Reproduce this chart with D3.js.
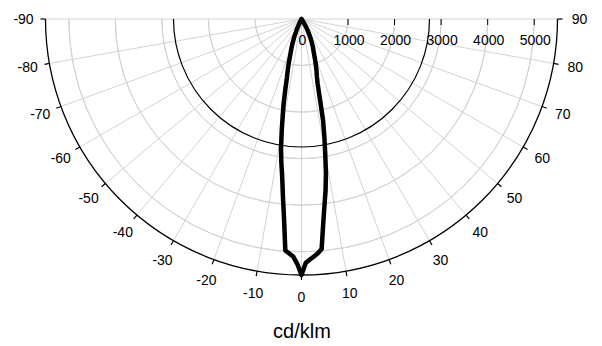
<!doctype html>
<html>
  <head>
    <meta charset="utf-8"/>
    <title>cd/klm</title>
    <style>
      body, html {
        margin: 0;
        padding: 0;
        background: #fff;
      }
      svg text {
        font-family: "Liberation Sans", Arial, sans-serif;
        fill: #000;
      }
    </style>
    <script src="https://d3js.org/d3.v7.min.js"></script>
  </head>
  <body>
    <svg id="chart" width="602" height="346"></svg>
    <script>
      // polar angles (deg, 0 = straight down) and intensities (cd/klm)
      var angles = [-90, -40, -30, -28, -26, -24, -22, -20, -19, -18, -17, -16, -15, -14, -13, -12, -11, -10,
                    -9, -8, -7, -6, -5, -4, -3, -2, -1, 0, 1, 2, 3, 4, 5, 6, 7, 8, 9,
                    10, 11, 12, 13, 14, 15, 16, 17, 18, 19, 20, 22, 24, 26, 28, 30, 32, 40, 90];
      var intensity = [0, 0, 0, 30, 110, 252, 416, 580, 662, 744, 855, 1001, 1146, 1292, 1535, 1837, 2113, 2448,
                       2814, 3114, 3407, 3820, 4306, 4985, 5044, 5108, 5260, 5500, 5240, 5172, 5109, 5046, 4961, 4447, 4044, 3716, 3355,
                       2934, 2574, 2228, 1746, 1434, 1277, 1174, 1071, 968, 866, 778, 657, 536, 415, 294, 180, 80, 0, 0];

      var gridAngles = d3.range(-90, 91, 10);
      var gridValues = [1000, 2000, 3000, 4000, 5000];
      var radialTicks = [0, 1000, 2000, 3000, 4000, 5000];
      var maxValue = 5500;
      var halfValue = 2750;
      var unitLabel = "cd/klm";

      var cx = 301.5, cy = 19;
      var rad = function(a) { return a * Math.PI / 180; };

      var r = d3.scaleLinear().domain([0, maxValue]).range([0, 256]);

      var svg = d3.select("#chart");
      var g = svg.append("g").attr("transform", "translate(" + cx + "," + cy + ")");

      // d3 radial angle: 0 at top, clockwise -> ours is 0 at bottom
      var toD3 = function(a) { return Math.PI - rad(a); };
      var px = function(a, v) { return r(v) * Math.sin(rad(a)); };
      var py = function(a, v) { return r(v) * Math.cos(rad(a)); };

      var semi = function(v) {
        return d3.arc()
          .innerRadius(r(v)).outerRadius(r(v))
          .startAngle(Math.PI / 2).endAngle(3 * Math.PI / 2)();
      };

      // gray circles
      g.selectAll(".ring")
        .data(gridValues)
        .enter().append("path")
          .attr("class", "ring")
          .attr("d", semi)
          .attr("fill", "none")
          .attr("stroke", "#d3d3d3")
          .attr("stroke-width", 1);

      // gray spokes
      g.selectAll(".spoke")
        .data(gridAngles)
        .enter().append("line")
          .attr("class", "spoke")
          .attr("x1", 0).attr("y1", 0)
          .attr("x2", function(d) { return px(d, maxValue); })
          .attr("y2", function(d) { return py(d, maxValue); })
          .attr("stroke", "#d3d3d3")
          .attr("stroke-width", 1);

      // half-max circle and outer circle
      g.append("path").attr("d", semi(halfValue))
        .attr("fill", "none").attr("stroke", "#000").attr("stroke-width", 1.2);
      g.append("path").attr("d", semi(maxValue))
        .attr("fill", "none").attr("stroke", "#000").attr("stroke-width", 1.3);

      // angle ticks + labels
      g.selectAll(".atick")
        .data(gridAngles)
        .enter().append("line")
          .attr("class", "atick")
          .attr("x1", function(d) { return px(d, maxValue); })
          .attr("y1", function(d) { return py(d, maxValue); })
          .attr("x2", function(d) { return (r(maxValue) + 5) * Math.sin(rad(d)); })
          .attr("y2", function(d) { return (r(maxValue) + 5) * Math.cos(rad(d)); })
          .attr("stroke", "#000")
          .attr("stroke-width", 1.2);

      g.selectAll(".alabel")
        .data(gridAngles)
        .enter().append("text")
          .attr("class", "alabel")
          .attr("x", function(d) { return 278 * Math.sin(rad(d)); })
          .attr("y", function(d) { return 278 * Math.cos(rad(d)); })
          .attr("text-anchor", "middle")
          .attr("dominant-baseline", "central")
          .style("font-size", "14px")
          .text(function(d) { return d; });

      // radial axis along the top
      g.selectAll(".rtick")
        .data(radialTicks.filter(function(d) { return d > 0; }))
        .enter().append("line")
          .attr("class", "rtick")
          .attr("x1", function(d) { return r(d); }).attr("x2", function(d) { return r(d); })
          .attr("y1", 0).attr("y2", 6)
          .attr("stroke", "#000")
          .attr("stroke-width", 1);

      g.selectAll(".rlabel")
        .data(radialTicks)
        .enter().append("text")
          .attr("class", "rlabel")
          .attr("x", function(d) { return r(d) + 1; })
          .attr("y", 21)
          .attr("text-anchor", "middle")
          .attr("dominant-baseline", "central")
          .style("font-size", "14px")
          .text(function(d) { return d; });

      // intensity curve
      var points = angles.map(function(a, i) { return { a: a, v: intensity[i] }; });
      var line = d3.lineRadial()
        .angle(function(d) { return toD3(d.a); })
        .radius(function(d) { return r(d.v); });

      g.append("path")
        .datum(points)
        .attr("d", line)
        .attr("fill", "none")
        .attr("stroke", "#000")
        .attr("stroke-width", 4.5)
        .attr("stroke-linejoin", "round")
        .attr("stroke-linecap", "round");

      svg.append("text")
        .attr("x", 302)
        .attr("y", 338)
        .attr("text-anchor", "middle")
        .style("font-size", "20px")
        .text(unitLabel);
    </script>
  </body>
</html>
